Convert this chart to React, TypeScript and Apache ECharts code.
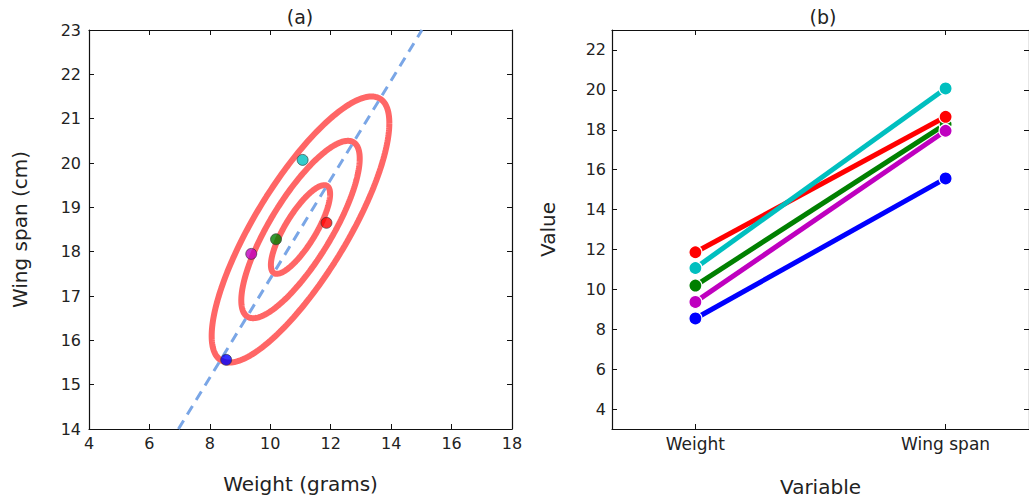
import React, { useEffect, useRef } from "react";
import * as echarts from "echarts";

// ---- Data ----
const birdColors = ["#ff0000", "#00bfbf", "#008000", "#bf00bf", "#0000ff"];
const weights = [11.86, 11.07, 10.19, 9.37, 8.54];
const wingSpans = [18.65, 20.07, 18.28, 17.95, 15.56];
const drawOrder = [4, 2, 3, 0, 1]; // blue, green, magenta, red, cyan

const categories = ["Weight", "Wing span"];

// contour parameters (bivariate normal)
const contourCenter = [11.0, 18.5];
const contourSigma = [0.98, 1.0];
const contourRho = 0.8;
const contourLevels = [1, 2, 3];

// dashed reference line endpoints
const refLineX = [6.96, 15.02];
const refLineY = [14, 23];

const leftXTicks = [4, 6, 8, 10, 12, 14, 16, 18];
const leftYTicks = [14, 15, 16, 17, 18, 19, 20, 21, 22, 23];
const rightYTicks = [4, 6, 8, 10, 12, 14, 16, 18, 20, 22];

const FONT = "DejaVu Sans";

function ellipsePoints(k: number): number[][] {
  const pts: number[][] = [];
  const n = 240;
  const s = Math.sqrt(1 - contourRho * contourRho);
  for (let i = 0; i <= n; i++) {
    const t = (i / n) * Math.PI * 2;
    const x = contourCenter[0] + k * contourSigma[0] * Math.cos(t);
    const y =
      contourCenter[1] +
      k * contourSigma[1] * (contourRho * Math.cos(t) + s * Math.sin(t));
    pts.push([x, y]);
  }
  return pts;
}

export default function App() {
  const ref = useRef<HTMLDivElement>(null);
  useEffect(() => {
    if (!ref.current) return;
    const chart = echarts.init(ref.current, null, { renderer: "svg" });
    const frame = { show: true, onZero: false, lineStyle: { color: "#111", width: 1.2 } };
    const tickIn = { show: true, inside: true, length: 5, lineStyle: { color: "#111", width: 1 } };
    const lbl = { color: "#222", fontSize: 16, fontFamily: FONT };
    const nameStyle = { color: "#222", fontSize: 20, fontFamily: FONT };

    const series: any[] = [];
    contourLevels.forEach((k) => {
      series.push({
        type: "line",
        xAxisIndex: 0,
        yAxisIndex: 0,
        data: ellipsePoints(k),
        showSymbol: false,
        symbol: "none",
        lineStyle: { color: "#ff6666", width: 6 },
        z: 2,
        silent: true,
      });
    });
    series.push({
      type: "line",
      xAxisIndex: 0,
      yAxisIndex: 0,
      data: refLineX.map((x, i) => [x, refLineY[i]]),
      symbol: "none",
      lineStyle: { color: "#7aa6e6", width: 3, type: [10, 7] },
      z: 3,
      silent: true,
    });
    series.push({
      type: "scatter",
      xAxisIndex: 0,
      yAxisIndex: 0,
      symbolSize: 11,
      data: weights.map((w, i) => ({
        value: [w, wingSpans[i]],
        itemStyle: { color: birdColors[i], borderColor: "#333", borderWidth: 0.8 },
      })),
      z: 5,
    });
    drawOrder.forEach((i, order) => {
      series.push({
        type: "line",
        xAxisIndex: 2,
        yAxisIndex: 2,
        data: [
          [0, weights[i]],
          [1, wingSpans[i]],
        ],
        symbol: "circle",
        symbolSize: 13,
        itemStyle: { color: birdColors[i], borderColor: "#ffffff", borderWidth: 1.2 },
        lineStyle: { color: birdColors[i], width: 5 },
        z: 3 + order,
      });
    });

    chart.setOption({
      animation: false,
      backgroundColor: "#ffffff",
      textStyle: { fontFamily: FONT },
      grid: [
        { left: 89, top: 30, width: 423, height: 399 },
        { left: 612, top: 30, width: 422, height: 399 },
      ],
      graphic: [
        { type: "text", x: 300, y: 17, style: { text: "(a)", fontSize: 19, fontFamily: FONT, fill: "#222", align: "center", verticalAlign: "middle" } },
        { type: "text", x: 823, y: 17, style: { text: "(b)", fontSize: 19, fontFamily: FONT, fill: "#222", align: "center", verticalAlign: "middle" } },
      ],
      xAxis: [
        {
          type: "value", gridIndex: 0, min: 4, max: 18, interval: 2, position: "bottom",
          axisLine: frame, axisTick: tickIn, splitLine: { show: false },
          axisLabel: { ...lbl, margin: 6, customValues: leftXTicks },
          name: "Weight (grams)", nameLocation: "middle", nameGap: 45, nameTextStyle: nameStyle,
        },
        {
          type: "value", gridIndex: 0, min: 4, max: 18, interval: 2, position: "top",
          axisLine: frame, axisTick: tickIn, splitLine: { show: false }, axisLabel: { show: false },
        },
        {
          type: "value", gridIndex: 1, min: -1 / 3, max: 4 / 3, position: "bottom",
          axisLine: frame,
          axisTick: { ...tickIn, customValues: [0, 1] },
          splitLine: { show: false },
          axisLabel: { ...lbl, fontSize: 17, margin: 6, customValues: [0, 1], formatter: (v: number) => categories[Math.round(v)] ?? "" },
          name: "Variable", nameLocation: "middle", nameGap: 48, nameTextStyle: nameStyle,
        },
        {
          type: "value", gridIndex: 1, min: -1 / 3, max: 4 / 3, position: "top",
          axisLine: frame, axisTick: { ...tickIn, customValues: [0, 1] },
          splitLine: { show: false }, axisLabel: { show: false },
        },
      ],
      yAxis: [
        {
          type: "value", gridIndex: 0, min: 14, max: 23, interval: 1, position: "left",
          axisLine: frame, axisTick: tickIn, splitLine: { show: false },
          axisLabel: { ...lbl, margin: 8, customValues: leftYTicks },
          name: "Wing span (cm)", nameLocation: "middle", nameGap: 59, nameTextStyle: nameStyle,
        },
        {
          type: "value", gridIndex: 0, min: 14, max: 23, interval: 1, position: "right",
          axisLine: frame, axisTick: tickIn, splitLine: { show: false }, axisLabel: { show: false },
        },
        {
          type: "value", gridIndex: 1, min: 3, max: 23, position: "left",
          axisLine: frame, axisTick: { ...tickIn, customValues: rightYTicks },
          splitLine: { show: false },
          axisLabel: { ...lbl, margin: 6, customValues: rightYTicks },
          name: "Value", nameLocation: "middle", nameGap: 54, nameTextStyle: nameStyle,
        },
        {
          type: "value", gridIndex: 1, min: 3, max: 23, position: "right",
          axisLine: frame, axisTick: { ...tickIn, customValues: rightYTicks },
          splitLine: { show: false }, axisLabel: { show: false },
        },
      ],
      series,
    });
    return () => chart.dispose();
  }, []);
  return (
    <div
      ref={ref}
      style={{ position: "absolute", left: 0, top: 0, width: 1029, height: 503 }}
    />
  );
}
